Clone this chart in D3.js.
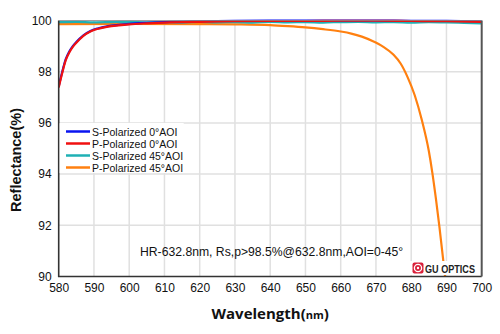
<!DOCTYPE html>
<html><head><meta charset="utf-8">
<script src="https://cdn.jsdelivr.net/npm/d3@7"></script>
<style>body{margin:0;background:#fff}svg{display:block}</style>
</head><body><svg id="c" width="500" height="334"></svg>
<script>
// ---- data ----
const xTicks = [580,590,600,610,620,630,640,650,660,670,680,690,700];
const yTicks = [90,92,94,96,98,100];
const seriesNames = ["S-Polarized 0°AOI","P-Polarized 0°AOI","S-Polarized 45°AOI","P-Polarized 45°AOI"];
const seriesColors = ["#0a14f0","#f01010","#1fb0b4","#ff8010"];

const wl0 = [580,581,582,583,584,585,587,589,591,594,597,600,605,610,620,630,640,650,660,670,680,690,700];
const s0  = [97.42,98.0,98.49,98.79,99.0,99.16,99.42,99.59,99.69,99.78,99.83,99.87,99.91,99.94,99.97,99.99,100.0,100.0,100.0,100.0,99.99,99.99,99.97];
const p0  = [97.38,97.95,98.45,98.75,98.97,99.13,99.4,99.57,99.67,99.76,99.81,99.85,99.89,99.92,99.95,99.97,99.98,99.98,99.99,99.99,99.98,99.97,99.95];

const wl45s = [580,585,590,595,600,605,610,615,620,625,630,635,640,645,650,655,660,665,670,675,680,685,690,695,700];
const s45   = [99.94,99.95,99.93,99.94,99.95,99.93,99.94,99.92,99.95,99.93,99.94,99.92,99.95,99.93,99.94,99.92,99.94,99.95,99.93,99.94,99.92,99.94,99.93,99.91,99.89];

const wl45p = [580,600,620,630,640,645,650,655,660,663,666,669,672,675,677,679,681,683,685,686,687,688,689,690];
const p45   = [99.86,99.87,99.86,99.85,99.82,99.78,99.73,99.66,99.57,99.49,99.37,99.2,98.98,98.66,98.32,97.78,97.08,96.12,94.9,94.05,93.05,91.95,90.75,89.5];

// ---- chart ----
const svg = d3.select("#c");
const L=58.7, R=481.7, T=20.5, B=276.5;
const x = d3.scaleLinear().domain([580,700]).range([L,R]);
const y = d3.scaleLinear().domain([90,100]).range([B,T]);

svg.append("defs").append("clipPath").attr("id","clip")
  .append("rect").attr("x",L).attr("y",T-3).attr("width",R-L).attr("height",B-T+3);

// grid
const g = svg.append("g");
g.selectAll(".vg").data(xTicks.slice(1,-1)).join("line")
  .attr("x1",d=>x(d)).attr("x2",d=>x(d)).attr("y1",T).attr("y2",B)
  .attr("stroke","#e0e0e0").attr("stroke-width",1.5);
g.selectAll(".hg").data(yTicks.slice(1,-1)).join("line")
  .attr("x1",L).attr("x2",R).attr("y1",d=>y(d)).attr("y2",d=>y(d))
  .attr("stroke","#e0e0e0").attr("stroke-width",1.5);

// axes with labels
const xa = svg.append("g").attr("transform",`translate(0,${B})`)
  .call(d3.axisBottom(x).tickValues(xTicks).tickSize(0).tickPadding(7).tickFormat(d3.format("d")));
const ya = svg.append("g").attr("transform",`translate(${L},0)`)
  .call(d3.axisLeft(y).tickValues(yTicks).tickSize(0).tickPadding(7).tickFormat(d3.format("d")));
[xa,ya].forEach(a=>{a.select(".domain").remove();
  a.selectAll("text").attr("font-family","Liberation Sans, Arial, sans-serif").attr("font-size",12).attr("fill","#111");});

// lines
const line = d3.line().x(d=>x(d[0])).y(d=>y(d[1])).curve(d3.curveMonotoneX);
const lg = svg.append("g").attr("clip-path","url(#clip)");
const sets = [
  {xs:wl45p, ys:p45, c:seriesColors[3]},
  {xs:wl45s, ys:s45, c:seriesColors[2]},
  {xs:wl0, ys:s0, c:seriesColors[0]},
  {xs:wl0, ys:p0, c:seriesColors[1]}
];
sets.forEach(s=>{
  lg.append("path").datum(s.xs.map((v,i)=>[v,s.ys[i]]))
    .attr("d",line).attr("fill","none").attr("stroke",s.c).attr("stroke-width",2.2);
});

// frame
svg.append("path").attr("d",`M${L},${T}V${B}H${R}`).attr("fill","none").attr("stroke","#333").attr("stroke-width",1.6);
svg.append("line").attr("x1",R).attr("x2",R).attr("y1",T).attr("y2",B).attr("stroke","#555").attr("stroke-width",2);
svg.append("line").attr("x1",L).attr("x2",R).attr("y1",T).attr("y2",T).attr("stroke","#888").attr("stroke-width",0.8);

// legend
const leg = svg.append("g");
leg.append("rect").attr("x",L+1).attr("y",123).attr("width",124).attr("height",50).attr("fill","#fff");
const legOrder=[0,1,2,3];
legOrder.forEach((k,i)=>{
  const yy = 131.5 + i*12;
  leg.append("line").attr("x1",66).attr("x2",90).attr("y1",yy).attr("y2",yy)
    .attr("stroke",seriesColors[k]).attr("stroke-width",2.5);
  leg.append("text").attr("x",92).attr("y",yy+4).text(seriesNames[k])
    .attr("font-family","Liberation Sans, Arial, sans-serif").attr("font-size",10.5).attr("fill","#111");
});

// annotation
svg.append("text").attr("x",140).attr("y",256).text("HR-632.8nm, Rs,p>98.5%@632.8nm,AOI=0-45°")
  .attr("font-family","Liberation Sans, Arial, sans-serif").attr("font-size",12.2).attr("fill","#111");

// logo
const lo = svg.append("g");
lo.append("rect").attr("x",410).attr("y",261).attr("width",68).attr("height",14).attr("fill","#fff");
lo.append("rect").attr("x",412.5).attr("y",262.5).attr("width",11).attr("height",11).attr("rx",2).attr("fill","#d9203a");
lo.append("circle").attr("cx",418).attr("cy",268).attr("r",3.6).attr("fill","none").attr("stroke","#fff").attr("stroke-width",1.3);
lo.append("circle").attr("cx",418).attr("cy",268).attr("r",1.2).attr("fill","#fff");
lo.append("text").attr("x",425).attr("y",272.5).text("GU OPTICS")
  .attr("font-family","Liberation Sans, Arial, sans-serif").attr("font-weight","bold").attr("font-size",10)
  .attr("textLength",50).attr("lengthAdjust","spacingAndGlyphs").attr("fill","#222");

// axis titles
const xt = svg.append("text").attr("x",(L+R)/2).attr("y",319).attr("text-anchor","middle")
  .attr("font-family","Open Sans, Lato, sans-serif").attr("font-weight","bold").attr("font-size",15).attr("fill","#111");
xt.append("tspan").text("Wavelength(");
xt.append("tspan").text("nm").attr("font-size",11);
xt.append("tspan").text(")");
svg.append("text").attr("transform","translate(21,160) rotate(-90)").attr("text-anchor","middle")
  .attr("font-family","Liberation Sans, Arial, sans-serif").attr("font-weight","bold").attr("font-size",14.5).attr("fill","#111")
  .text("Reflectance(%)");
</script></body></html>
